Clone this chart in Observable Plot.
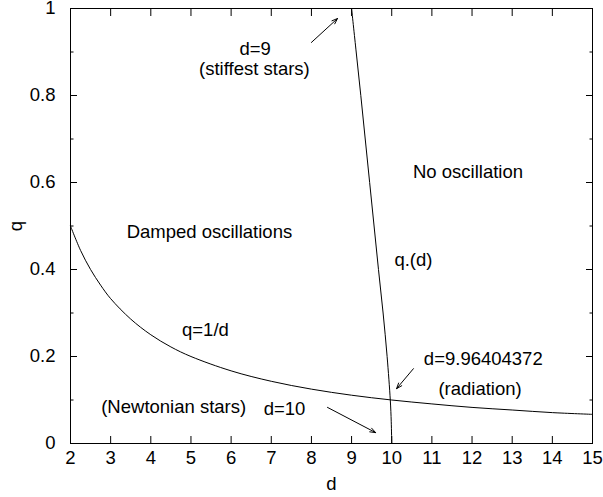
<!DOCTYPE html>
<html><head><meta charset="utf-8">
<script src="https://cdn.jsdelivr.net/npm/d3@7"></script>
<script src="https://cdn.jsdelivr.net/npm/@observablehq/plot@0.6"></script>
<style>body{margin:0;background:#fff}</style>
</head><body><div id="chart"></div>
<script>
// q = 1/d curve
const recipD = [2, 2.25, 2.5, 2.75, 3, 3.5, 4, 4.5, 5, 6, 7, 8, 9, 10, 11, 12, 13, 14, 15];
const recipQ = [0.5, 0.444, 0.4, 0.364, 0.333, 0.286, 0.25, 0.222, 0.2, 0.167, 0.143, 0.125, 0.111, 0.1, 0.091, 0.083, 0.077, 0.071, 0.067];
// q*(d) curve
const starQ = [1, 0.9, 0.8, 0.7, 0.6, 0.5, 0.4, 0.3, 0.2, 0.1, 0.05, 0];
const starD = [9.0, 9.115, 9.23, 9.34, 9.45, 9.56, 9.67, 9.785, 9.885, 9.964, 9.988, 10.0];
// ticks
const xTicks = [2, 3, 4, 5, 6, 7, 8, 9, 10, 11, 12, 13, 14, 15];
const yMajor = [0, 0.2, 0.4, 0.6, 0.8, 1];
const yMinor = [0.1, 0.3, 0.5, 0.7, 0.9];
// annotations
const labelText = ["d=9", "(stiffest stars)", "No oscillation", "Damped oscillations", "q.(d)", "q=1/d", "d=9.96404372", "(radiation)", "(Newtonian stars)", "d=10"];
const labelD = [6.6, 6.58, 11.9, 5.46, 10.54, 5.36, 12.28, 12.2, 4.57, 7.33];
const labelQ = [0.906, 0.86, 0.623, 0.487, 0.421, 0.26, 0.195, 0.125, 0.083, 0.08];
const arrowD1 = [8.0, 10.54, 8.4];
const arrowQ1 = [0.922, 0.172, 0.083];
const arrowD2 = [8.65, 10.12, 9.6];
const arrowQ2 = [0.977, 0.126, 0.025];

const recip = recipD.map((d, i) => ({d, q: recipQ[i]}));
const star = starD.map((d, i) => ({d, q: starQ[i]}));
const labels = labelText.map((t, i) => ({t, d: labelD[i], q: labelQ[i]}));
const arrows = arrowD1.map((d1, i) => ({d1, q1: arrowQ1[i], d2: arrowD2[i], q2: arrowQ2[i]}));

const font = "'Liberation Sans', Arial, Helvetica, sans-serif";
const fs = 18.5;
const fmt = v => String(+(+v).toFixed(1));
const blank = () => "";

const chart = Plot.plot({
  width: 603, height: 497,
  marginLeft: 70, marginRight: 11, marginTop: 8, marginBottom: 54,
  style: {fontFamily: font, fontSize: fs + "px", background: "white", color: "black"},
  x: {domain: [2, 15]},
  y: {domain: [0, 1]},
  marks: [
    Plot.axisX(xTicks, {anchor: "bottom", tickSize: -7, tickPadding: 14, tickFormat: fmt, fontSize: fs,
      label: "d", labelAnchor: "center", labelArrow: "none", labelOffset: 46}),
    Plot.axisX(xTicks, {anchor: "top", tickSize: -7, tickFormat: blank, label: null}),
    Plot.axisY(yMajor, {anchor: "left", tickSize: -7, tickPadding: 22, tickFormat: fmt, fontSize: fs,
      label: "q", labelAnchor: "center", labelArrow: "none", labelOffset: 62}),
    Plot.axisY(yMinor, {anchor: "left", tickSize: -3.5, tickFormat: blank, label: null}),
    Plot.axisY(yMajor, {anchor: "right", tickSize: -7, tickFormat: blank, label: null}),
    Plot.axisY(yMinor, {anchor: "right", tickSize: -3.5, tickFormat: blank, label: null}),
    Plot.frame({stroke: "black", strokeWidth: 1}),
    Plot.line(recip, {x: "d", y: "q", stroke: "black", strokeWidth: 1, curve: "catmull-rom"}),
    Plot.line(star, {x: "d", y: "q", stroke: "black", strokeWidth: 1, curve: "catmull-rom"}),
    Plot.text(labels, {x: "d", y: "q", text: "t", fontSize: fs, fill: "black"}),
    Plot.arrow(arrows, {x1: "d1", y1: "q1", x2: "d2", y2: "q2", stroke: "black", strokeWidth: 1, headLength: 9, headAngle: 40})
  ]
});
document.getElementById("chart").appendChild(chart);
</script>
</body></html>
